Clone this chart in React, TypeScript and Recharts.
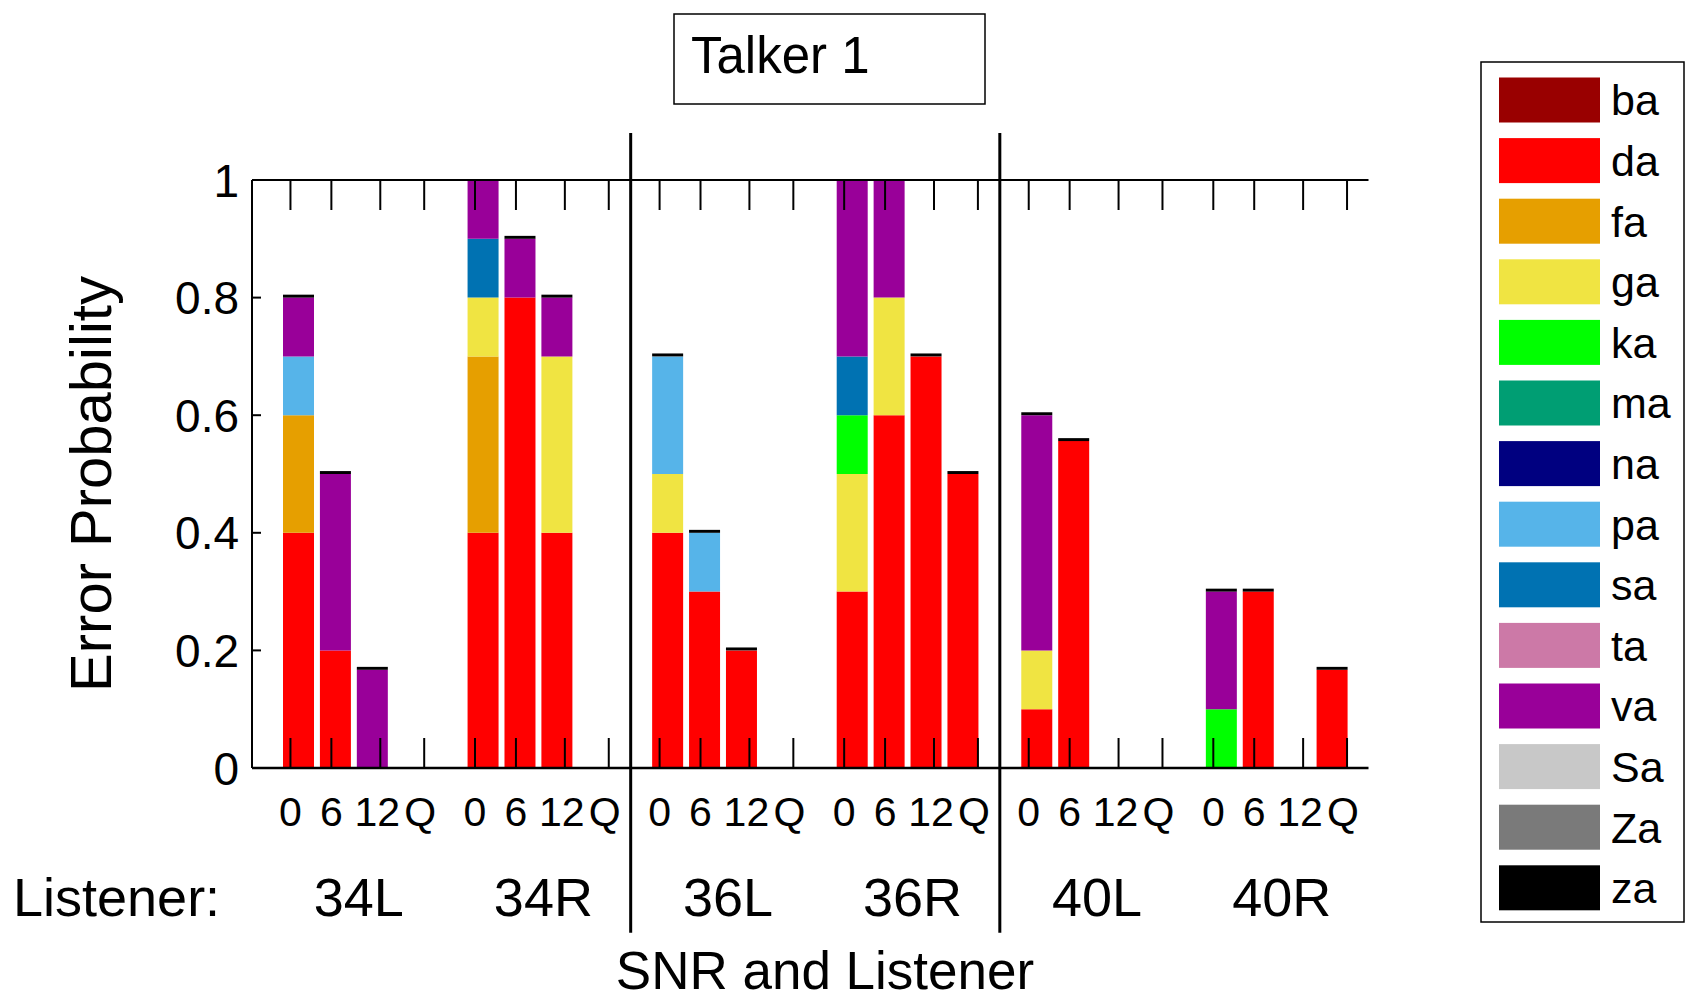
import { BarChart, Bar, XAxis, YAxis, ReferenceLine } from "recharts"

const listeners = ["34L", "34R", "36L", "36R", "40L", "40R"]
const snrs = ["0", "6", "12", "Q"]
const syllables = ["ba", "da", "fa", "ga", "ka", "ma", "na", "pa", "sa", "ta", "va", "Sa", "Za", "za"]
const colors = [
  "#990000", "#FF0000", "#E69F00", "#F0E442", "#00FF00", "#009E73", "#000080",
  "#56B4E9", "#0072B2", "#CC79A7", "#990099", "#C8C8C8", "#7A7A7A", "#000000",
]
const yTicks = [0, 0.2, 0.4, 0.6, 0.8, 1]
const dividerAfter = ["34R", "36R"]

// error probability per response, listener by listener, SNR order 0, 6, 12, Q
const ba = [0, 0, 0, 0, 0, 0, 0, 0, 0, 0, 0, 0, 0, 0, 0, 0, 0, 0, 0, 0, 0, 0, 0, 0]
const da = [0.4, 0.2, 0, 0, 0.4, 0.8, 0.4, 0, 0.4, 0.3, 0.2, 0, 0.3, 0.6, 0.7, 0.5, 0.1, 0.556, 0, 0, 0, 0.3, 0, 0.167]
const fa = [0.2, 0, 0, 0, 0.3, 0, 0, 0, 0, 0, 0, 0, 0, 0, 0, 0, 0, 0, 0, 0, 0, 0, 0, 0]
const ga = [0, 0, 0, 0, 0.1, 0, 0.3, 0, 0.1, 0, 0, 0, 0.2, 0.2, 0, 0, 0.1, 0, 0, 0, 0, 0, 0, 0]
const ka = [0, 0, 0, 0, 0, 0, 0, 0, 0, 0, 0, 0, 0.1, 0, 0, 0, 0, 0, 0, 0, 0.1, 0, 0, 0]
const ma = [0, 0, 0, 0, 0, 0, 0, 0, 0, 0, 0, 0, 0, 0, 0, 0, 0, 0, 0, 0, 0, 0, 0, 0]
const na = [0, 0, 0, 0, 0, 0, 0, 0, 0, 0, 0, 0, 0, 0, 0, 0, 0, 0, 0, 0, 0, 0, 0, 0]
const pa = [0.1, 0, 0, 0, 0, 0, 0, 0, 0.2, 0.1, 0, 0, 0, 0, 0, 0, 0, 0, 0, 0, 0, 0, 0, 0]
const sa = [0, 0, 0, 0, 0.1, 0, 0, 0, 0, 0, 0, 0, 0.1, 0, 0, 0, 0, 0, 0, 0, 0, 0, 0, 0]
const ta = [0, 0, 0, 0, 0, 0, 0, 0, 0, 0, 0, 0, 0, 0, 0, 0, 0, 0, 0, 0, 0, 0, 0, 0]
const va = [0.1, 0.3, 0.167, 0, 0.1, 0.1, 0.1, 0, 0, 0, 0, 0, 0.3, 0.2, 0, 0, 0.4, 0, 0, 0, 0.2, 0, 0, 0]
const Sa = [0, 0, 0, 0, 0, 0, 0, 0, 0, 0, 0, 0, 0, 0, 0, 0, 0, 0, 0, 0, 0, 0, 0, 0]
const Za = [0, 0, 0, 0, 0, 0, 0, 0, 0, 0, 0, 0, 0, 0, 0, 0, 0, 0, 0, 0, 0, 0, 0, 0]
const za = [0.005, 0.005, 0.005, 0, 0, 0.005, 0.005, 0, 0.005, 0.005, 0.005, 0, 0, 0, 0.005, 0.005, 0.005, 0.005, 0, 0, 0.005, 0.005, 0, 0.005]

const series: Record<string, number[]> = { ba, da, fa, ga, ka, ma, na, pa, sa, ta, va, Sa, Za, za }

// one row per bar, with an empty slot between listeners
const rows: Record<string, any>[] = []
listeners.forEach((l, g) => {
  snrs.forEach((s, k) => {
    const row: Record<string, any> = { slot: `${l}|${s}` }
    syllables.forEach((name) => (row[name] = series[name][g * 4 + k]))
    rows.push(row)
  })
  if (g < listeners.length - 1) rows.push({ slot: `gap|${l}` })
})

const W = 1687
const H = 1001
const plotLeft = 252
const plotRight = 1368.5
const plotTop = 180
const plotBottom = 768
const padL = 28
const padR = 18
const slotWidth = (plotRight - plotLeft - padL - padR) / rows.length
const tickShift = [-8, -4, 8, 15]
const labelShift = [-8, -4, 5, 11]
const font = "'Liberation Sans', Arial, Helvetica, sans-serif"

function SnrTick({ x, y, payload }: any) {
  const [listener, snr] = String(payload.value).split("|")
  if (listener === "gap") return <g />
  const k = snrs.indexOf(snr)
  const tx = x + tickShift[k]
  return (
    <g>
      <line x1={tx} x2={tx} y1={y} y2={y - 30} stroke="#000" strokeWidth={2} />
      <text x={x + labelShift[k]} y={y + 58} textAnchor="middle" fontSize={41} fill="#000">
        {snr}
      </text>
      {k === 1 && (
        <text x={x + slotWidth / 2 + 5} y={y + 148} textAnchor="middle" fontSize={54} fill="#000">
          {listener}
        </text>
      )}
    </g>
  )
}

function TopTick({ x, y, payload }: any) {
  const [listener, snr] = String(payload.value).split("|")
  if (listener === "gap") return <g />
  const tx = x + tickShift[snrs.indexOf(snr)]
  return <line x1={tx} x2={tx} y1={y} y2={y + 30} stroke="#000" strokeWidth={2} />
}

function ProbTick({ x, y, payload }: any) {
  return (
    <g>
      <line x1={x} x2={x + 9} y1={y} y2={y} stroke="#000" strokeWidth={2} />
      <text x={x - 13} y={y} dy="0.36em" textAnchor="end" fontSize={46} fill="#000">
        {payload.value}
      </text>
    </g>
  )
}

export default function App() {
  return (
    <div style={{ position: "absolute", left: 0, top: 0, width: W, height: H, background: "#fff", fontFamily: font, overflow: "hidden" }}>
      <BarChart
        width={W}
        height={H}
        data={rows}
        barSize={31}
        margin={{ top: plotTop - 10, right: W - plotRight, bottom: H - plotBottom - 10, left: plotLeft - 60 }}
      >
        <XAxis
          dataKey="slot"
          interval={0}
          height={10}
          padding={{ left: padL, right: padR }}
          axisLine={{ stroke: "#000", strokeWidth: 2.5 }}
          tickLine={false}
          tickSize={0}
          tickMargin={0}
          tick={SnrTick}
        />
        <XAxis
          xAxisId="top"
          orientation="top"
          dataKey="slot"
          interval={0}
          height={10}
          padding={{ left: padL, right: padR }}
          axisLine={{ stroke: "#000", strokeWidth: 2 }}
          tickLine={false}
          tickSize={0}
          tickMargin={0}
          tick={TopTick}
        />
        <YAxis
          width={60}
          domain={[0, 1]}
          ticks={yTicks}
          allowDataOverflow
          axisLine={{ stroke: "#000", strokeWidth: 2 }}
          tickLine={false}
          tickSize={0}
          tickMargin={0}
          tick={ProbTick}
        />
        {syllables.map((name, i) => (
          <Bar key={name} dataKey={name} stackId="a" fill={colors[i]} isAnimationActive={false} />
        ))}
        {dividerAfter.map((l) => (
          <ReferenceLine
            key={l}
            ifOverflow="visible"
            stroke="#000"
            strokeWidth={3}
            segment={[
              { x: `gap|${l}`, y: -0.28 },
              { x: `gap|${l}`, y: 1.08 },
            ]}
          />
        ))}
      </BarChart>
      <svg width={W} height={H} style={{ position: "absolute", left: 0, top: 0, pointerEvents: "none" }}>
        <rect x={674} y={14} width={311} height={90} fill="#fff" stroke="#000" strokeWidth={1.5} />
        <text x={691} y={73} fontSize={51} fill="#000">Talker 1</text>
        <text x={90} y={484} fontSize={58} fill="#000" textAnchor="middle" dominantBaseline="central" transform="rotate(-90 90 484)">
          Error Probability
        </text>
        <text x={13} y={916} fontSize={54} fill="#000">Listener:</text>
        <text x={825} y={989} fontSize={53} fill="#000" textAnchor="middle">SNR and Listener</text>
        <rect x={1481} y={62} width={203} height={860} fill="none" stroke="#000" strokeWidth={1.5} />
        {syllables.map((name, i) => (
          <g key={name}>
            <rect x={1499} y={100 + i * 60.6 - 22.5} width={101} height={45} fill={colors[i]} />
            <text x={1611} y={100 + i * 60.6} dy="0.36em" fontSize={43} fill="#000">{name}</text>
          </g>
        ))}
      </svg>
    </div>
  )
}
